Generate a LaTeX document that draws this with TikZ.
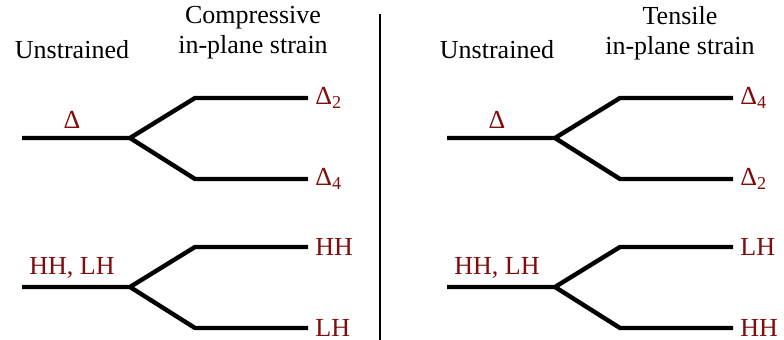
\documentclass[tikz,border=0pt]{standalone}
\usepackage{fontspec}
\setmainfont{Liberation Serif}
\usepackage{tikz}
\usetikzlibrary{positioning}
\definecolor{levelred}{RGB}{128,12,12}
\tikzset{
  lvl/.style={line width=2.2pt, line join=miter},
  hdr/.style={font=\fontsize{13}{15}\selectfont, align=center, inner sep=0pt},
  lab/.style={font=\fontsize{13}{15}\selectfont, text=levelred, inner sep=0pt},
  sep/.style={line width=0.8pt}
}
\begin{document}
\begin{tikzpicture}[x=0.5pt,y=-0.5pt]
  \useasboundingbox (0,0) rectangle (784,340);
  % headings
  \node[hdr] (unsL) at (72,50) {Unstrained};
  \node[hdr] (cmpL) at (253,33) {Compressive\\in-plane strain};
  \node[hdr] (unsR) at (497,50) {Unstrained};
  \node[hdr] (tnsR) at (680,33) {Tensile\\in-plane strain};
  \coordinate (sepT) at (380,14);
  \coordinate (sepB) at (380,340);
  \draw[sep] (sepT) -- (sepB);
  % compressive: Delta levels
  \coordinate (dL0) at (22,138);
  \coordinate (dLs) at (130,138);
  \coordinate (dLu) at (195,98);
  \coordinate (dLue) at (308,98);
  \coordinate (dLd) at (195,179);
  \coordinate (dLde) at (308,179);
  \draw[lvl] (dL0) -- (dLs) -- (dLu) -- (dLue);
  \draw[lvl] (dLs) -- (dLd) -- (dLde);
  \node[lab] (dL) at (72,120) {Δ};
  \node[lab, right=3.5pt of dLue, anchor=west] (dL2) {Δ\textsubscript{2}};
  \node[lab, right=3.5pt of dLde, anchor=west] (dL4) {Δ\textsubscript{4}};
  % compressive: HH, LH levels
  \coordinate (hL0) at (22,287);
  \coordinate (hLs) at (130,287);
  \coordinate (hLu) at (195,247);
  \coordinate (hLue) at (308,247);
  \coordinate (hLd) at (195,328);
  \coordinate (hLde) at (308,328);
  \draw[lvl] (hL0) -- (hLs) -- (hLu) -- (hLue);
  \draw[lvl] (hLs) -- (hLd) -- (hLde);
  \node[lab] (hL) at (72,268) {HH, LH};
  \node[lab, right=3.5pt of hLue, anchor=west] (hLh) {HH};
  \node[lab, right=3.5pt of hLde, anchor=west] (hLl) {LH};
  % tensile: Delta levels
  \coordinate (dR0) at (447,138);
  \coordinate (dRs) at (555,138);
  \coordinate (dRu) at (620,98);
  \coordinate (dRue) at (733,98);
  \coordinate (dRd) at (620,179);
  \coordinate (dRde) at (733,179);
  \draw[lvl] (dR0) -- (dRs) -- (dRu) -- (dRue);
  \draw[lvl] (dRs) -- (dRd) -- (dRde);
  \node[lab] (dR) at (497,120) {Δ};
  \node[lab, right=3.5pt of dRue, anchor=west] (dR4) {Δ\textsubscript{4}};
  \node[lab, right=3.5pt of dRde, anchor=west] (dR2) {Δ\textsubscript{2}};
  % tensile: HH, LH levels
  \coordinate (hR0) at (447,287);
  \coordinate (hRs) at (555,287);
  \coordinate (hRu) at (620,247);
  \coordinate (hRue) at (733,247);
  \coordinate (hRd) at (620,328);
  \coordinate (hRde) at (733,328);
  \draw[lvl] (hR0) -- (hRs) -- (hRu) -- (hRue);
  \draw[lvl] (hRs) -- (hRd) -- (hRde);
  \node[lab] (hR) at (497,268) {HH, LH};
  \node[lab, right=3.5pt of hRue, anchor=west] (hRl) {LH};
  \node[lab, right=3.5pt of hRde, anchor=west] (hRh) {HH};
\end{tikzpicture}
\end{document}
